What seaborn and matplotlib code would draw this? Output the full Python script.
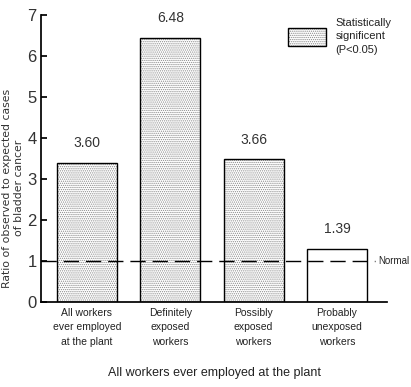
import seaborn as sns
import matplotlib.pyplot as plt
import matplotlib.patches as mpatches
from matplotlib.colors import to_rgba
import pandas as pd

groups = ["All workers\never employed\nat the plant", "Definitely\nexposed\nworkers",
          "Possibly\nexposed\nworkers", "Probably\nunexposed\nworkers"]
bar_heights = [3.40, 6.45, 3.48, 1.30]
value_labels = ["3.60", "6.48", "3.66", "1.39"]
significant = [True, True, True, False]
normal_level = 1.0

sns.set_theme(style="white")
plt.rcParams['font.family'] = ['Liberation Sans', 'DejaVu Sans']
plt.rcParams['hatch.linewidth'] = 0.6

HATCH = "........"
DOT = to_rgba("#8a8a8a")

df = pd.DataFrame({"group": groups, "ratio": bar_heights})

fig = plt.figure(figsize=(4.11, 3.87), dpi=100)
ax = fig.add_axes([0.0998, 0.2196, 0.842, 0.7416])

sns.barplot(data=df, x="group", y="ratio", color="white", width=0.72,
            edgecolor="black", linewidth=1.0, ax=ax)
for patch, sig in zip(ax.patches, significant):
    patch.set_facecolor("white")
    patch.set_edgecolor("black")
    if sig:
        patch.set_hatch(HATCH)
        patch._hatch_color = DOT

for i, (h, lab) in enumerate(zip(bar_heights, value_labels)):
    ax.text(i, h + 0.3, lab, ha="center", va="bottom", fontsize=10, color="#333333")

ax.axhline(normal_level, xmin=0, xmax=0.965, color="black", linestyle=(0, (11, 5)),
           linewidth=1.0, zorder=5)
ax.text(0.974, normal_level, "Normal", transform=ax.get_yaxis_transform(),
        ha="left", va="center", fontsize=7, color="#222222")

ax.set_xlim(-0.55, 3.6)
ax.set_ylim(0, 7)
ax.set_yticks(range(0, 8))
ax.tick_params(axis="y", direction="in", length=4, labelsize=12, pad=3, left=True,
               labelcolor="#333333", color="black")
ax.tick_params(axis="x", length=0, labelsize=7.5, pad=4, labelcolor="#222222")
for t in ax.get_xticklabels():
    t.set_linespacing(1.6)
sns.despine(ax=ax)
ax.spines["left"].set_color("black")
ax.spines["bottom"].set_color("black")
ax.set_xlabel("All workers ever employed at the plant", fontsize=9, labelpad=14,
              color="#222222")
ax.set_ylabel("")
fig.text(0.032, 0.514, "Ratio of observed to expected cases\nof bladder cancer",
         rotation=90, ha="center", va="center", fontsize=7.8, family="DejaVu Sans",
         linespacing=1.25, color="#333333")

legend_patch = mpatches.Patch(facecolor="white", edgecolor="black", hatch=HATCH,
                              label="Statistically\nsignificent\n(P<0.05)")
legend_patch._hatch_color = DOT
leg = ax.legend(handles=[legend_patch], loc="upper left", bbox_to_anchor=(0.697, 1.01),
                frameon=False, fontsize=8, handlelength=3.4, handleheight=2.2,
                borderpad=0, handletextpad=0.9)
for t in leg.get_texts():
    t.set_linespacing(1.45)
    t.set_color("#222222")

fig.savefig("out.png", dpi=100)
